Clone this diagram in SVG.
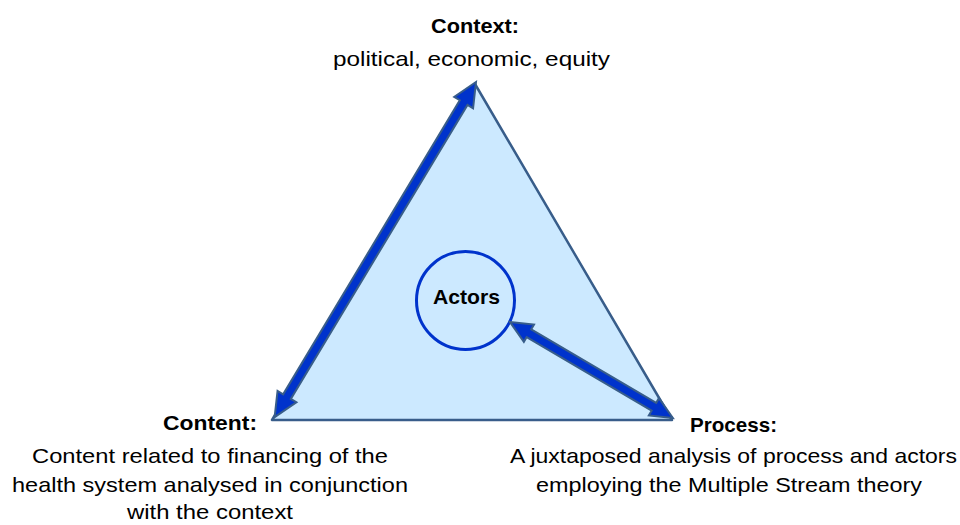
<svg xmlns="http://www.w3.org/2000/svg" width="960" height="525" viewBox="0 0 960 525">
<style>
.t{font-family:"Liberation Sans",Arial,sans-serif;font-size:21px;fill:#000;text-anchor:middle}
.b{font-weight:bold}
.arr{fill:#0033cc;stroke:#385d8a;stroke-width:2;stroke-linejoin:miter}
</style>
<rect width="960" height="525" fill="#fff"/>
<g id="triangle">
<polygon points="475,84 272,420 672,420" fill="#cce9ff" stroke="#385d8a" stroke-width="2.5" stroke-linejoin="round"/>
</g>
<g id="actors">
<circle cx="465.5" cy="300.5" r="49" fill="#cce9ff" stroke="#0033cc" stroke-width="3"/>
<text class="t b" x="466.5" y="304" textLength="67" lengthAdjust="spacingAndGlyphs">Actors</text>
</g>
<g id="connectors">
<polygon class="arr" transform="translate(476,82) rotate(121)" points="0,0 24,-11 24,-4.5 367,-4.5 367,-11 391,0 367,11 367,4.5 24,4.5 24,11"/>
<polygon class="arr" transform="translate(510,322) rotate(30.5)" points="0,0 22,-10 22,-4.5 167,-4.5 167,-10 189,0 167,10 167,4.5 22,4.5 22,10"/>
</g>
<g id="context">
<text class="t b" x="475" y="33" textLength="88" lengthAdjust="spacingAndGlyphs">Context:</text>
<text class="t" x="471.5" y="66" textLength="277" lengthAdjust="spacingAndGlyphs">political, economic, equity</text>
</g>
<g id="content">
<text class="t b" x="210" y="430" textLength="94" lengthAdjust="spacingAndGlyphs">Content:</text>
<text class="t" x="210" y="463" textLength="356" lengthAdjust="spacingAndGlyphs">Content related to financing of the</text>
<text class="t" x="210" y="492" textLength="396" lengthAdjust="spacingAndGlyphs">health system analysed in conjunction</text>
<text class="t" x="210" y="519" textLength="166" lengthAdjust="spacingAndGlyphs">with the context</text>
</g>
<g id="process">
<text class="t b" x="733.5" y="432" textLength="87" lengthAdjust="spacingAndGlyphs">Process:</text>
<text class="t" x="733.5" y="463" textLength="447" lengthAdjust="spacingAndGlyphs">A juxtaposed analysis of process and actors</text>
<text class="t" x="729" y="492" textLength="386" lengthAdjust="spacingAndGlyphs">employing the Multiple Stream theory</text>
</g>
</svg>
